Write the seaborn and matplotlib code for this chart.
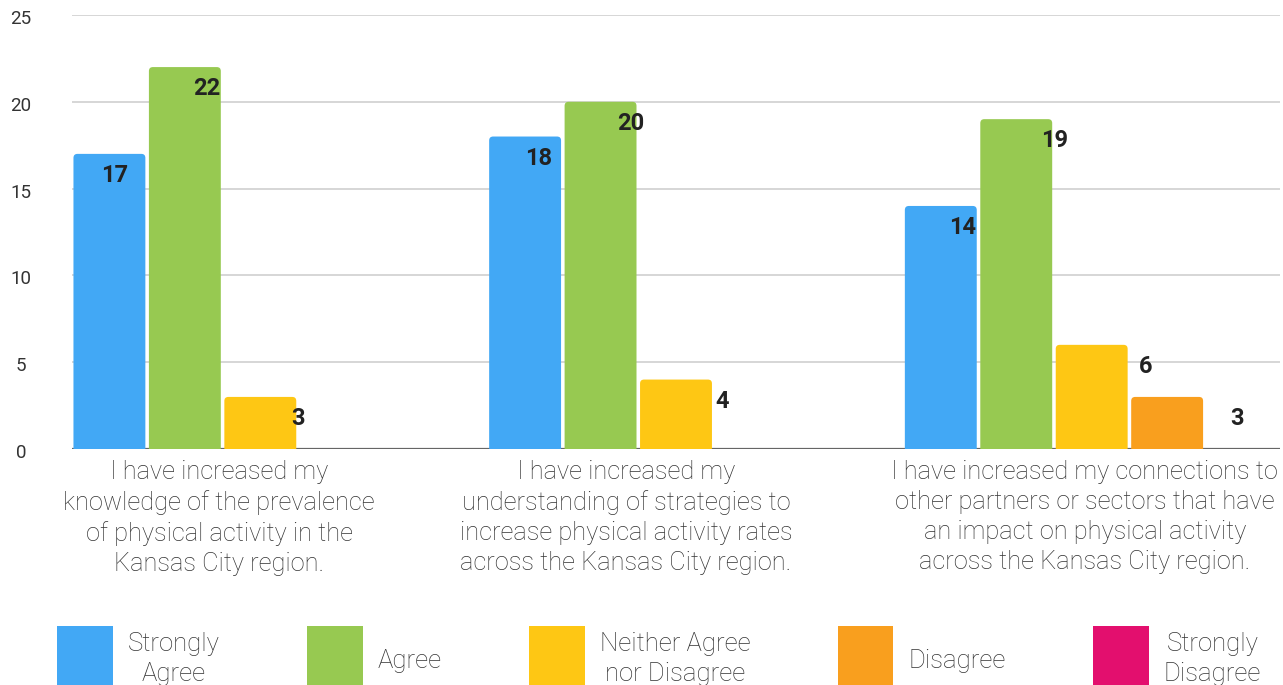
import numpy as np
import pandas as pd
import seaborn as sns
import matplotlib.pyplot as plt
from matplotlib.patches import FancyBboxPatch, Patch, Rectangle
from matplotlib.legend_handler import HandlerPatch
from matplotlib.transforms import ScaledTranslation

# Survey statements (x categories) and response counts per answer
statements = [
    "I have increased my\nknowledge of the prevalence\nof physical activity in the\nKansas City region.",
    "I have increased my\nunderstanding of strategies to\nincrease physical activity rates\nacross the Kansas City region.",
    "I have increased my connections to\nother partners or sectors that have\nan impact on physical activity\nacross the Kansas City region.",
]
responses = ["Strongly\nAgree", "Agree", "Neither Agree\nnor Disagree", "Disagree", "Strongly\nDisagree"]
strongly_agree = [17, 18, 14]
agree = [22, 20, 19]
neither = [3, 4, 6]
disagree = [0, 0, 3]
strongly_disagree = [0, 0, 0]
y_ticks = [0, 5, 10, 15, 20, 25]

colors = ["#42A8F5", "#97C951", "#FEC714", "#F99F1E", "#E30F6E"]

series = [strongly_agree, agree, neither, disagree, strongly_disagree]
rows = []
for resp, vals in zip(responses, series):
    for stmt, v in zip(statements, vals):
        rows.append({"statement": stmt, "response": resp, "count": v})
df = pd.DataFrame(rows)

sns.set_theme(style="white")
plt.rcParams["font.family"] = ["Roboto", "DejaVu Sans"]

fig = plt.figure(figsize=(12.83, 6.85), dpi=100)
ax = fig.add_axes([72 / 1283, 1 - 449 / 685, (1280 - 72) / 1283, (449 - 15) / 685])

sns.barplot(
    data=df, x="statement", y="count", hue="response",
    order=statements, hue_order=responses, palette=colors, saturation=1,
    width=0.9075, gap=0.047, legend=False, ax=ax, zorder=3,
)

ax.set_xlim(-0.453, 2.453)
ax.set_ylim(0, 25)

# Round the top corners of each bar
px_x = 1 / 416.0
px_y = 25 / 434.0
aspect = px_y / px_x
for bar in list(ax.patches):
    h = bar.get_height()
    if h <= 0:
        bar.remove()
        continue
    x0, w = bar.get_x(), bar.get_width()
    rounded = FancyBboxPatch(
        (x0, -1), w, h + 1,
        boxstyle=f"round,pad=0,rounding_size={4 * px_x}",
        mutation_aspect=aspect,
        facecolor=bar.get_facecolor(), edgecolor="none", zorder=3,
    )
    bar.remove()
    ax.add_patch(rounded)

# Value labels beside the bars
for i in range(len(statements)):
    for j, vals in enumerate(series):
        v = vals[i]
        if v <= 0:
            continue
        lx = i + (j - 1.5) * 0.22 + (i - 1) * 0.02
        ax.annotate(
            str(v), (lx, v), xytext=(0, -15.5), textcoords="offset points",
            ha="center", va="center", fontsize=17, fontweight="bold",
            color="#222222", zorder=5,
        )

# Grid and baseline
ax.set_yticks(y_ticks)
ax.yaxis.grid(True, color="#CCCCCC", linewidth=1.1, zorder=0)
ax.set_axisbelow(True)
ax.axhline(0, color="#666666", linewidth=1.6, zorder=2)
for s in ax.spines.values():
    s.set_visible(False)

ax.tick_params(axis="y", length=0, pad=36.7, labelsize=13.5, labelcolor="#333333")
for t in ax.get_yticklabels():
    t.set_horizontalalignment("center")
    t.set_transform(t.get_transform() + ScaledTranslation(0, -2 / 100, fig.dpi_scale_trans))

ax.set_xlabel("")
ax.set_ylabel("")
ax.tick_params(axis="x", length=0, pad=8, labelsize=18.3, labelcolor="#333333")
label_shift = [-41, -50, -7]
for t, dx in zip(ax.get_xticklabels(), label_shift):
    t.set_fontweight("light")
    t.set_multialignment("center")
    t.set_linespacing(1.31)
    t.set_transform(t.get_transform() + ScaledTranslation(dx / 100, 0, fig.dpi_scale_trans))


class RaisedSwatch(HandlerPatch):
    """Legend swatch lifted a few points above the text baseline."""

    def __init__(self, lift, **kw):
        super().__init__(**kw)
        self.lift = lift

    def create_artists(self, legend, orig_handle, xdescent, ydescent,
                       width, height, fontsize, trans):
        p = Rectangle((-xdescent, -ydescent + self.lift), width, height)
        self.update_prop(p, orig_handle, legend)
        p.set_transform(trans)
        return [p]


# Legend with tall colour swatches
handles = [Patch(facecolor=c, edgecolor="none") for c in colors]
leg = fig.legend(
    handles, responses, loc="lower left", bbox_to_anchor=(57 / 1283, -5.5 / 685),
    ncol=5, frameon=False, handlelength=2.17, handleheight=3.157,
    handletextpad=0.58, columnspacing=3.4, borderpad=0, borderaxespad=0,
    prop={"weight": "light", "size": 18.5},
    handler_map={Patch: RaisedSwatch(lift=4.0)},
)
for t in leg.get_texts():
    t.set_multialignment("center")
    t.set_color("#333333")
    t.set_linespacing(1.31)

fig.savefig("out.png", dpi=100, facecolor="white")
